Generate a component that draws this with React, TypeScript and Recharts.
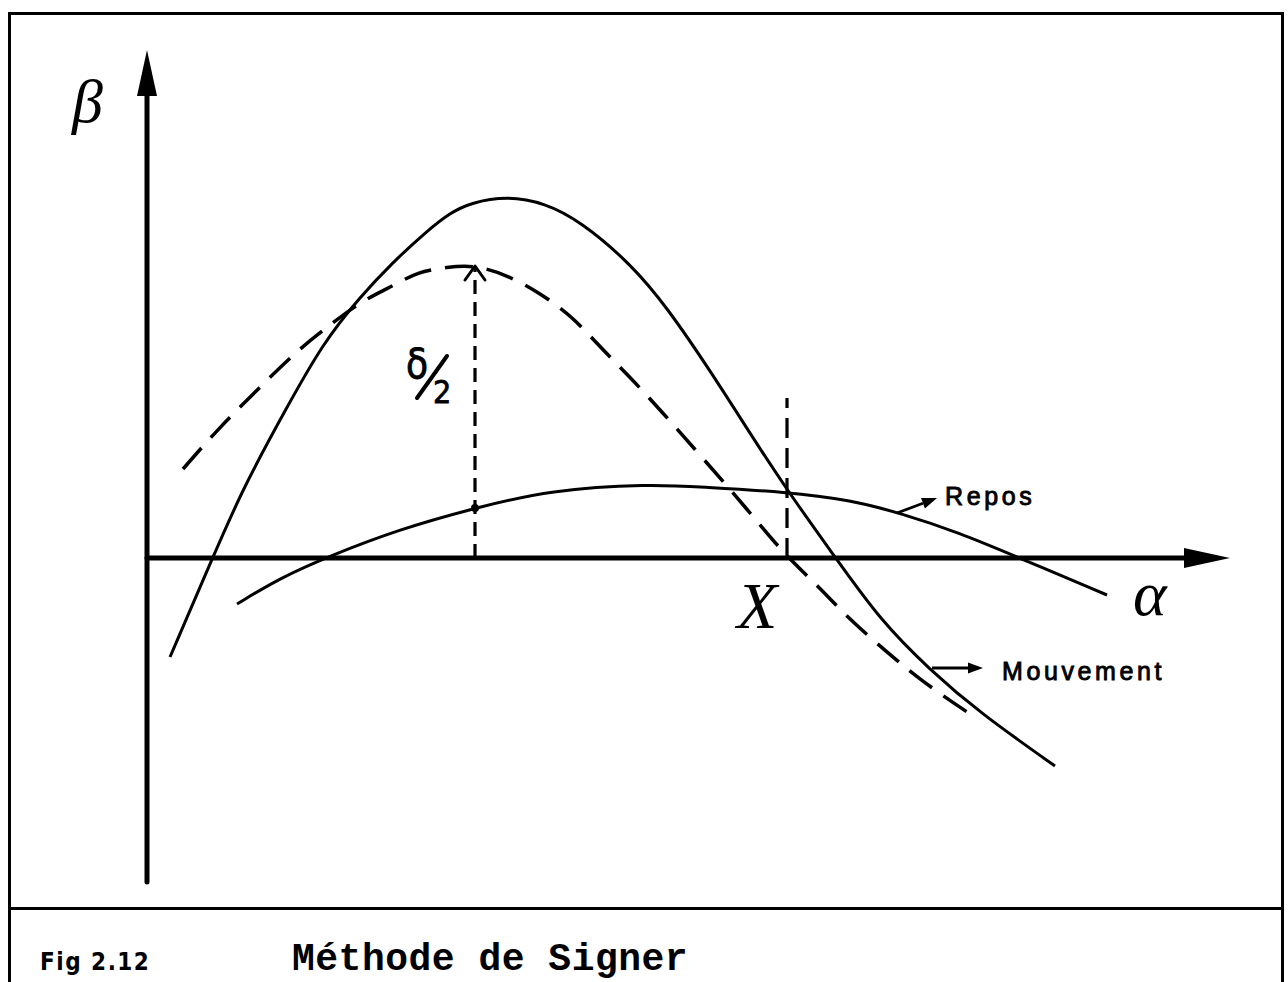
import React from 'react';
import { LineChart, Line, XAxis, YAxis, ReferenceLine, ReferenceDot } from 'recharts';

// Courbe "Mouvement" (trait plein, haute)
const mouvement = [
  { a: 2.3, b: -9.9 }, { a: 6.6, b: 0.1 }, { a: 9.6, b: 7.0 }, { a: 14.0, b: 15.1 },
  { a: 17.6, b: 21.5 }, { a: 21.3, b: 26.1 }, { a: 24.5, b: 29.5 }, { a: 28.0, b: 32.7 },
  { a: 30.3, b: 34.5 }, { a: 32.3, b: 35.5 }, { a: 36.0, b: 36.2 }, { a: 39.8, b: 35.5 },
  { a: 43.3, b: 33.7 }, { a: 48.3, b: 29.5 }, { a: 52.0, b: 25.1 },
  { a: 56.6, b: 18.3 }, { a: 60.6, b: 12.0 }, { a: 64.0, b: 6.8 }, { a: 68.8, b: 0.1 },
  { a: 73.3, b: -6.2 }, { a: 78.3, b: -11.2 }, { a: 83.3, b: -15.5 }, { a: 90.8, b: -20.8 },
];

// Courbe décalée de δ/2 (tirets)
const decalee = [
  { a: 3.6, b: 8.9 }, { a: 7.0, b: 12.8 }, { a: 11.0, b: 16.8 }, { a: 15.3, b: 21.0 },
  { a: 18.3, b: 23.3 }, { a: 21.6, b: 25.8 }, { a: 24.8, b: 27.3 }, { a: 27.0, b: 28.6 },
  { a: 30.0, b: 29.1 }, { a: 32.8, b: 29.3 }, { a: 36.0, b: 28.3 }, { a: 39.3, b: 26.5 },
  { a: 42.6, b: 24.1 }, { a: 45.3, b: 21.1 }, { a: 48.3, b: 18.1 }, { a: 51.6, b: 14.5 },
  { a: 55.3, b: 10.3 }, { a: 60.1, b: 4.8 }, { a: 63.6, b: 0.5 }, { a: 67.0, b: -2.7 },
  { a: 70.3, b: -6.2 }, { a: 74.0, b: -9.4 }, { a: 77.3, b: -12.2 }, { a: 82.0, b: -15.4 },
];

// Courbe "Repos" (trait plein, basse)
const repos = [
  { a: 9.0, b: -4.6 }, { a: 13.3, b: -2.0 }, { a: 18.0, b: 0.1 }, { a: 25.3, b: 2.9 },
  { a: 32.8, b: 5.0 }, { a: 40.3, b: 6.8 }, { a: 50.3, b: 7.4 }, { a: 55.3, b: 7.1 },
  { a: 64.0, b: 6.6 }, { a: 70.3, b: 5.8 }, { a: 75.3, b: 4.5 }, { a: 81.3, b: 2.5 },
  { a: 87.0, b: 0.1 }, { a: 96.0, b: -3.7 },
];

const xDomain = [0, 108.3];
const yDomain = [-32.4, 50.8];

// δ/2 construction and intersection point X
const deltaAlpha = 32.8;
const deltaTop = 29.3;
const deltaFoot = 5.0;
const xAlpha = 64.0;
const xLineTop = 16.0;

// Label arrows [from, to]
const reposArrow = [{ a: 75.0, b: 4.5 }, { a: 79.0, b: 6.0 }];
const mouvArrow = [{ a: 78.5, b: -11.0 }, { a: 83.6, b: -11.0 }];

// Text labels (anchor in data units)
const labels = [
  { a: -7.5, b: 43.6, text: 'β', kind: 'greekBeta' },
  { a: 98.6, b: -5.7, text: 'α', kind: 'greekAlpha' },
  { a: 59.0, b: -7.0, text: 'X', kind: 'bigX' },
  { a: 79.8, b: 5.3, text: 'Repos', kind: 'name' },
  { a: 85.5, b: -12.2, text: 'Mouvement', kind: 'name' },
];
const deltaLabel = { a: 25.9, b: 18.0, num: 'δ', den: '2' };

const captionFig = 'Fig 2.12';
const captionTitle = 'Méthode de Signer';

const labelStyles: Record<string, any> = {
  greekBeta: { fontFamily: '"Liberation Serif", serif', fontStyle: 'italic', fontSize: 62 },
  greekAlpha: { fontFamily: '"Liberation Serif", serif', fontStyle: 'italic', fontSize: 64 },
  bigX: { fontFamily: '"Liberation Serif", serif', fontStyle: 'italic', fontSize: 66 },
  name: { fontFamily: '"Liberation Sans", Arial, sans-serif', fontSize: 25, letterSpacing: 3.6, stroke: '#000', strokeWidth: 0.9 },
};

function arrowHead(x1: number, y1: number, x2: number, y2: number, len: number, half: number) {
  const dx = x2 - x1, dy = y2 - y1;
  const L = Math.hypot(dx, dy) || 1;
  const ux = dx / L, uy = dy / L;
  const bx = x2 - ux * len, by = y2 - uy * len;
  const px = -uy, py = ux;
  return {
    base: { x: bx, y: by },
    points: `${x2},${y2} ${bx + px * half},${by + py * half} ${bx - px * half},${by - py * half}`,
  };
}

const AxisArrow = (props: any) => {
  const { x1, y1, x2, y2 } = props;
  const h = arrowHead(x1, y1, x2, y2, 46, 10);
  return (
    <g>
      <line x1={x1} y1={y1} x2={h.base.x} y2={h.base.y} stroke="#000" strokeWidth={5} strokeLinecap="round" />
      <polygon points={h.points} fill="#000" />
    </g>
  );
};

const SmallArrow = (props: any) => {
  const { x1, y1, x2, y2 } = props;
  const h = arrowHead(x1, y1, x2, y2, 15, 5.5);
  return (
    <g>
      <line x1={x1} y1={y1} x2={h.base.x} y2={h.base.y} stroke="#000" strokeWidth={2.8} />
      <polygon points={h.points} fill="#000" />
    </g>
  );
};

const DeltaArrow = (props: any) => {
  const { x1, y1, x2, y2 } = props;
  return (
    <g>
      <line x1={x1} y1={y1} x2={x2} y2={y2 + 3} stroke="#000" strokeWidth={3.2} strokeDasharray="14 8" />
      <polyline points={`${x2 - 10},${y2 + 15} ${x2},${y2 + 1} ${x2 + 10},${y2 + 15}`} fill="none" stroke="#000" strokeWidth={3} strokeLinecap="round" strokeLinejoin="round" />
    </g>
  );
};

const DashedVertical = (props: any) => {
  const { x1, y1, x2, y2 } = props;
  return <line x1={x1} y1={y1} x2={x2} y2={y2} stroke="#000" strokeWidth={3.2} strokeDasharray="20 10" />;
};

const makeLabelShape = (l: any) => (p: any) => (
  <text x={p.cx} y={p.cy} fill="#000" style={labelStyles[l.kind]}>{l.text}</text>
);

const DeltaShape = (p: any) => (
  <g>
    <text x={p.cx} y={p.cy} fill="#000" style={{ fontFamily: '"DejaVu Sans Condensed", "DejaVu Sans", sans-serif', fontSize: 40, stroke: '#000', strokeWidth: 0.8 }}>{deltaLabel.num}</text>
    <line x1={p.cx + 11} y1={p.cy + 20} x2={p.cx + 41} y2={p.cy - 22} stroke="#000" strokeWidth={4} strokeLinecap="round" />
    <text x={p.cx + 27} y={p.cy + 25} fill="#000" style={{ fontFamily: '"DejaVu Sans Condensed", "DejaVu Sans", sans-serif', fontSize: 32, stroke: '#000', strokeWidth: 0.8 }}>{deltaLabel.den}</text>
  </g>
);

export default function App() {
  return (
    <div style={{ position: 'absolute', left: 0, top: 0, width: 1288, height: 982, background: '#fff', overflow: 'hidden' }}>
      {/* frame */}
      <div style={{ position: 'absolute', left: 8, top: 12, width: 1276, height: 990, borderLeft: '3px solid #000', borderRight: '3px solid #000', borderTop: '3px solid #000', boxSizing: 'border-box' }} />
      <div style={{ position: 'absolute', left: 8, top: 907, width: 1276, height: 3, background: '#000' }} />
      <div style={{ position: 'absolute', left: 40, top: 950, lineHeight: 1, fontFamily: '"DejaVu Sans Condensed", "DejaVu Sans", sans-serif', fontWeight: 'bold', fontSize: 24, letterSpacing: 1.5 }}>{captionFig}</div>
      <div style={{ position: 'absolute', left: 292, top: 941, lineHeight: 1, fontFamily: '"Liberation Mono", "Courier New", monospace', fontWeight: 'bold', fontSize: 38, letterSpacing: 0.5 }}>{captionTitle}</div>
      <div style={{ position: 'absolute', left: 0, top: 0 }}>
        <LineChart width={1288} height={982} margin={{ top: 50, right: 58, bottom: 100, left: 147 }}>
          <XAxis type="number" dataKey="a" domain={xDomain} hide allowDataOverflow />
          <YAxis type="number" dataKey="b" domain={yDomain} hide width={0} allowDataOverflow />
          <ReferenceLine segment={[{ x: 0, y: yDomain[0] }, { x: 0, y: yDomain[1] }]} ifOverflow="visible" shape={AxisArrow} />
          <ReferenceLine segment={[{ x: 0, y: 0 }, { x: xDomain[1], y: 0 }]} ifOverflow="visible" shape={AxisArrow} />
          <ReferenceLine segment={[{ x: deltaAlpha, y: 0 }, { x: deltaAlpha, y: deltaTop }]} ifOverflow="visible" shape={DeltaArrow} />
          <ReferenceLine segment={[{ x: xAlpha, y: 0 }, { x: xAlpha, y: xLineTop }]} ifOverflow="visible" shape={DashedVertical} />
          <Line data={mouvement} dataKey="b" type="basis" stroke="#000" strokeWidth={3} dot={false} isAnimationActive={false} />
          <Line data={decalee} dataKey="b" type="basis" stroke="#000" strokeWidth={3.5} strokeDasharray="28 14" dot={false} isAnimationActive={false} />
          <Line data={repos} dataKey="b" type="basis" stroke="#000" strokeWidth={3} dot={false} isAnimationActive={false} />
          <ReferenceDot x={deltaAlpha} y={deltaFoot} r={4} fill="#000" stroke="none" ifOverflow="visible" />
          <ReferenceLine segment={[{ x: reposArrow[0].a, y: reposArrow[0].b }, { x: reposArrow[1].a, y: reposArrow[1].b }]} ifOverflow="visible" shape={SmallArrow} />
          <ReferenceLine segment={[{ x: mouvArrow[0].a, y: mouvArrow[0].b }, { x: mouvArrow[1].a, y: mouvArrow[1].b }]} ifOverflow="visible" shape={SmallArrow} />
          {labels.map((l) => (
            <ReferenceDot key={l.text} x={l.a} y={l.b} r={0} ifOverflow="visible" shape={makeLabelShape(l)} />
          ))}
          <ReferenceDot x={deltaLabel.a} y={deltaLabel.b} r={0} ifOverflow="visible" shape={DeltaShape} />
        </LineChart>
      </div>
    </div>
  );
}
